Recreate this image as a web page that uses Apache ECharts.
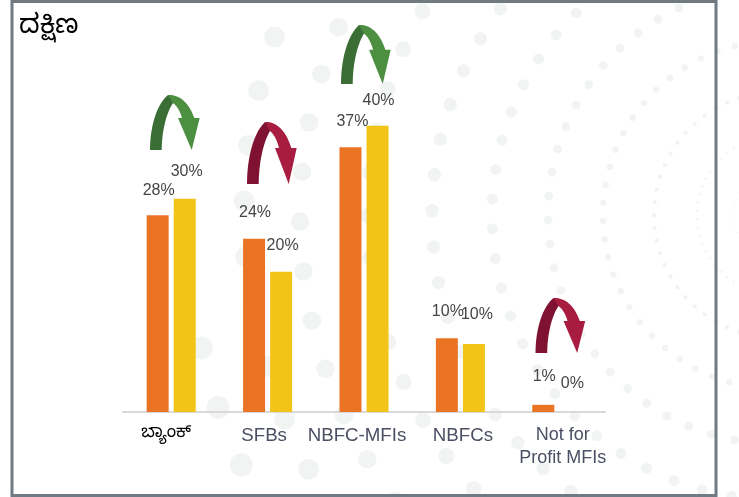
<!DOCTYPE html>
<html><head><meta charset="utf-8">
<style>html,body{margin:0;padding:0;background:#fff}#c{width:739px;height:497px}</style>
<script src="https://cdn.jsdelivr.net/npm/echarts@6/dist/echarts.min.js"></script>
</head><body><div id="c"></div>
<script>
const titleText = 'ದಕ್ಷಿಣ';
const categories = ['ಬ್ಯಾಂಕ್', 'SFBs', 'NBFC-MFIs', 'NBFCs', 'Not for\nProfit MFIs'];
const seriesA = [27.5, 24.2, 37, 10.3, 1];
const seriesB = [29.8, 19.6, 40, 9.5, 0];
const labelsA = ['28%', '24%', '37%', '10%', '1%'];
const labelsB = ['30%', '20%', '40%', '10%', '0%'];

const offsA = [[1,-12],[1,-13],[2,-13],[1,-14],[1,-15]];
const offsB = [[2,-14],[1.5,-13],[1,-12.5],[3,-16],[2,-15]];
const catShift = [-5, -3.5, -7, 2.5, 6];

// background dot rings: [radius, dotRadius, phase, fromDeg, toDeg]
const rings = [
 [44,.7,0,-180,180],[80,1.2,3,-180,180],[123,2.2,0,-180,180],[174,3.2,2,-180,180],
 [229,4.4,1.3,-180,180],[285,5.5,2.8,-90,90],[345,6.7,-.7,-70,70],[409,8,.1,-40,70],
 [477,9.3,.8,-30,40],[533,10.5,-1.5,-30,40],[591,11.5,1,13,40]
];
const cx = 777, cy = 215;
const dots = [];
rings.forEach(([r, d, ph, a0, a1]) => {
  for (let k = -30; k <= 30; k++) {
    const deg = ph + k * 6;
    if (deg < a0 || deg > a1) continue;
    const t = deg * Math.PI / 180;
    dots.push({type:'circle', silent:true, z:-10,
      shape:{cx:cx - r*Math.cos(t), cy:cy + r*Math.sin(t), r:d},
      style:{fill:'#f2f4f4'}});
  }
});

function bez(p0, p1, p2, p3, n = 14) {
  const out = [];
  for (let i = 0; i <= n; i++) {
    const t = i / n, u = 1 - t;
    out.push([
      u*u*u*p0[0] + 3*u*u*t*p1[0] + 3*u*t*t*p2[0] + t*t*t*p3[0],
      u*u*u*p0[1] + 3*u*u*t*p1[1] + 3*u*t*t*p2[1] + t*t*t*p3[1]
    ]);
  }
  return out;
}
const darkShape = [
  ...bez([0,55],[0,33],[6,10],[18,0]), [23,1], [23,8],
  ...bez([23,8],[15,20],[11.7,40],[11.7,55])
];
const lightShape = [
  ...bez([18,0],[30,-0.5],[39,8],[44.3,23]), [49.7,23], [41.7,55], [28,23], [32,23],
  ...bez([32,23],[30,16],[27,11],[23,8])
];
function arrow(x, y, h, dark, light) {
  const sy = h / 55;
  const place = pts => pts.map(([a, b]) => [x + a, y + b * sy]);
  return [
    {type:'polygon', silent:true, z:5, shape:{points:place(darkShape)}, style:{fill:dark}},
    {type:'polygon', silent:true, z:5, shape:{points:place(lightShape)}, style:{fill:light}}
  ];
}
const GD='#3b6e35', GL='#4d8f41', RD='#7f1232', RL='#a81c3f';
const arrows = [
  ...arrow(150,95,55,GD,GL), ...arrow(247,122,62,RD,RL),
  ...arrow(341,25,59,GD,GL), ...arrow(535.5,298,55,RD,RL)
];

function barSeries(values, labels, offs, color) {
  return {
    type:'bar', barWidth:22, barGap:'23%',
    itemStyle:{color},
    data: values.map((v,i)=>({value:v, label:{show:true, position:'top', distance:5,
      offset:offs[i], formatter:labels[i], color:'#454545', fontSize:16,
      fontFamily:'"Liberation Sans",Arial,sans-serif'}}))
  };
}

const shiftPad = d => d >= 0 ? [0,0,0,2*d] : [0,-2*d,0,0];
const kannadaFont = '"Noto Sans Kannada","Noto Sans","DejaVu Sans",sans-serif';

const chart = echarts.init(document.getElementById('c'), null, {renderer:'canvas'});
chart.setOption({
  animation:false,
  backgroundColor:'#fff',
  title:{text:titleText, left:14, top:12, textStyle:{fontSize:27, fontWeight:'normal', color:'#000',
    fontFamily:kannadaFont}},
  grid:{left:123, right:134, top:90, bottom:85},
  xAxis:{type:'category',
    data:categories.map((c,i)=> ({value:c, textStyle: i===0
      ? {color:'#000', fontSize:17, fontFamily:kannadaFont, padding:shiftPad(catShift[i])}
      : i===4 ? {fontSize:18, padding:shiftPad(catShift[i])}
      : {padding:shiftPad(catShift[i])}})),
    axisLine:{lineStyle:{color:'#d9d9d9', width:2}},
    axisTick:{show:false},
    axisLabel:{interval:0, margin:12, color:'#4b4f63', fontSize:18.7, lineHeight:23,
      fontFamily:'"Liberation Sans",Arial,sans-serif'}},
  yAxis:{type:'value', min:0, max:45, show:false, splitLine:{show:false}},
  series:[barSeries(seriesA, labelsA, offsA, '#ea7424'), barSeries(seriesB, labelsB, offsB, '#f2c417')],
  graphic:[...dots, ...arrows,
    {type:'rect', silent:true, z:4, shape:{x:12,y:1.5,width:704,height:494}, style:{fill:'none', stroke:'#6f7a82', lineWidth:3}}]
});
</script></body></html>
